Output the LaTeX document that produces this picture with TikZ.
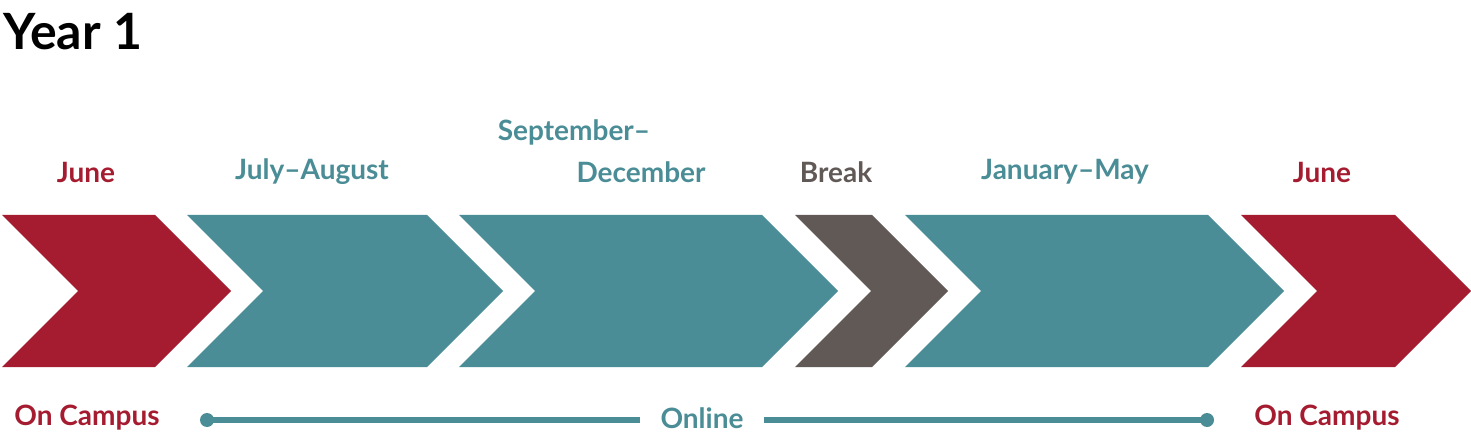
\documentclass[tikz,border=0pt]{standalone}
\usepackage{fontspec}
\setmainfont{Lato}
\usetikzlibrary{positioning}
\definecolor{crimson}{HTML}{A51C30}
\definecolor{teal}{HTML}{4A8D96}
\definecolor{stone}{HTML}{615956}
\tikzset{
    label/.style={font=\bfseries\fontsize{14}{16}\selectfont, inner sep=0pt},
}
% chevron: left x, top-right x
\newcommand{\chev}[3]{%
    \fill[#3] (#1,215) -- (#2,215) -- ({#2+76},291) -- (#2,367) -- (#1,367) -- ({#1+76},291) -- cycle;}
\begin{document}
\begin{tikzpicture}[x=0.5pt,y=-0.5pt]
    \useasboundingbox (0,0) rectangle (1471,438);
    \node[anchor=west, font=\bfseries\fontsize{25}{28}\selectfont, inner sep=0pt] (year) at (3,32) {Year 1};
    % chevrons
    \chev{2}{155}{crimson}
    \chev{187}{427}{teal}
    \chev{459}{762}{teal}
    \chev{795}{872}{stone}
    \chev{905}{1208}{teal}
    \chev{1241}{1395}{crimson}
    % labels above
    \node[label, text=crimson] (june1) at (86,172) {June};
    \node[label, text=teal] (julaug) at (312,172) {July–August};
    \node[label, text=teal] (sep) at (574,132) {September–};
    \node[label, text=teal] (dec) at (641,172) {December};
    \node[label, text=stone] (break) at (836,172) {Break};
    \node[label, text=teal] (janmay) at (1065,172) {January–May};
    \node[label, text=crimson] (june2) at (1322,172) {June};
    % labels below
    \node[label, text=crimson] (camp1) at (87,418) {On Campus};
    \node[label, text=teal] (online) at (702,418) {Online};
    \node[label, text=crimson] (camp2) at (1327,418) {On Campus};
    \coordinate (l1) at (207,420);
    \coordinate (l2) at (1207,420);
    \draw[teal, line width=3pt] (l1) -- ([xshift=-10pt]online.west |- l1);
    \draw[teal, line width=3pt] ([xshift=10pt]online.east |- l2) -- (l2);
    \fill[teal] (l1) circle[radius=7] (l2) circle[radius=7];
\end{tikzpicture}
\end{document}
